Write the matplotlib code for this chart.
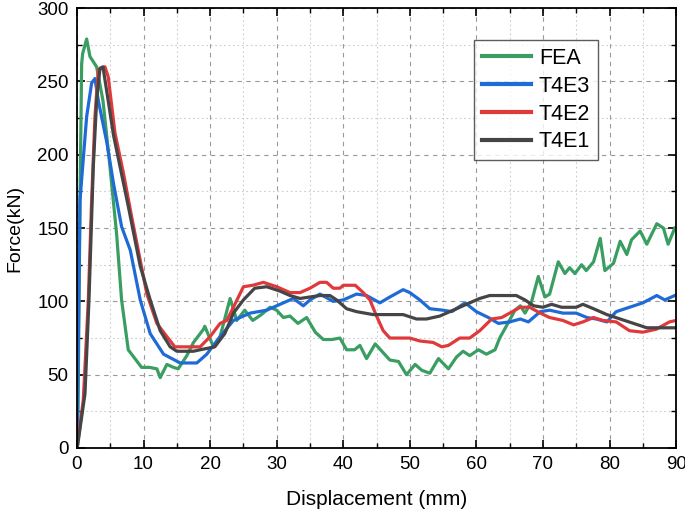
import numpy as np
import matplotlib
matplotlib.use('Agg')
import matplotlib.pyplot as plt
from matplotlib.ticker import MultipleLocator

plt.rcParams['font.family'] = ['Liberation Sans', 'DejaVu Sans']

# FEA curve (displacement mm, force kN)
fea_x = [0, 0.15, 0.45, 0.7, 0.85, 1.45, 1.95, 2.95, 3.9, 4.95, 5.95, 6.7, 7.7, 8.2, 9.7,
         10.9, 12, 12.5, 13.5, 14.5, 15.2, 16.5, 17.5, 19, 19.2, 20.5, 21.5, 23, 24, 25.2,
         26.4, 27.7, 29, 30, 31, 32, 33.2, 34.5, 35.8, 37, 38.3, 39.5, 40.5, 41.7, 42.5,
         43.5, 44.8, 45.8, 47, 48.3, 49.5, 50.8, 51.8, 53, 54.3, 55.8, 57, 58, 59, 60.3,
         61.5, 62.8, 63.5, 64.6, 65.8, 66.6, 67.3, 68.3, 69.3, 70.3, 71, 72.3, 73.3, 74,
         74.8, 75.8, 76.5, 77.6, 78.6, 79.3, 80.6, 81.6, 82.6, 83.3, 84.6, 85.6, 87.1,
         88.1, 88.8, 89.8]
fea_y = [0, 21, 169, 262, 269, 279, 267, 260, 237, 192, 146, 101, 67, 64, 55,
         55, 54, 48, 57, 55, 54, 63, 72, 81, 83, 69, 76, 102, 87, 94,
         87, 91, 96, 94, 89, 90, 85, 89, 79, 74, 74, 75, 67, 67, 70,
         61, 71, 66, 60, 59, 50, 57, 53, 51, 61, 54, 62, 66, 63, 67,
         64, 67, 75, 84, 94, 97, 92, 100, 117, 103, 105, 127, 119, 123,
         119, 125, 121, 127, 143, 121, 126, 141, 132, 142, 148, 139, 153,
         150, 139, 150]

# T4E3
e3_x = [0, 0.45, 1.45, 2.2, 2.7, 3.2, 4.5, 5.5, 6.7, 8, 9.5, 11, 13, 15.5, 18, 19.5,
        21.5, 23.5, 26, 28.5, 31, 32.5, 34, 35, 36.5, 38.5, 40, 42, 43.5, 45.5, 47,
        49, 50, 51.5, 53, 55, 56.3, 58.3, 60, 61.8, 63.3, 65, 66.6, 67.8, 69.6, 71,
        73, 75, 76.6, 78, 79.6, 81, 83, 85, 87.1, 88.3, 89.8]
e3_y = [0, 169, 226, 249, 252, 237, 208, 180, 151, 135, 101, 78, 64, 58, 58, 64,
        76, 87, 92, 94, 99, 102, 97, 101, 105, 100, 101, 105, 104, 99, 103,
        108, 106, 101, 95, 94, 93, 99, 93, 89, 85, 86, 88, 86, 93, 94,
        92, 92, 89, 88, 86, 93, 96, 99, 104, 101, 104]

# T4E2
e2_x = [0, 0.1, 0.95, 1.7, 2.2, 2.7, 3.2, 4.2, 4.7, 5.7, 7, 8.2, 9.5, 10.5, 12, 13.5,
        14.7, 16.5, 18.5, 20, 21.5, 22.5, 23.5, 25, 26.4, 28, 30, 32, 33.5, 35, 36.5,
        37.5, 38.5, 39.5, 40, 41.8, 43, 44, 45, 46, 47, 50, 51.5, 53.5, 54.8, 55.8,
        57.5, 59, 60.5, 62.3, 63.8, 65, 66.6, 68, 69.6, 71, 73, 74.6, 76, 77.6, 79,
        81, 83, 85, 87, 89, 90]
e2_y = [0, 3, 33, 101, 169, 226, 258, 260, 253, 215, 187, 158, 128, 105, 85, 76,
        69, 69, 69, 76, 85, 87, 96, 110, 111, 113, 110, 106, 106, 109, 113,
        113, 109, 109, 111, 111, 106, 101, 90, 80, 75, 75, 73, 72, 69, 70,
        75, 75, 80, 88, 89, 92, 96, 96, 92, 89, 87, 84, 86, 89, 87,
        86, 80, 79, 81, 86, 87]

# T4E1
e1_x = [0, 0.1, 1.2, 1.8, 2.45, 2.95, 3.45, 3.9, 5.5, 7.7, 9.5, 11, 12.5, 14, 15,
        17.5, 18.5, 20.7, 22.2, 23.5, 25, 26.7, 28.5, 30.5, 32, 33.5, 35, 36.5, 38,
        39, 40.5, 42, 44.5, 46.5, 49, 51, 52.5, 54.5, 55, 57, 59, 60.5, 62, 66,
        67.3, 68.6, 70, 71.3, 72.8, 75, 76, 77.6, 79.6, 81.6, 83.6, 85.6, 88, 90]
e1_y = [0, 2, 37, 101, 192, 237, 259, 260, 213, 165, 124, 101, 80, 69, 66,
        66, 67, 69, 78, 92, 101, 109, 110, 107, 104, 102, 103, 104, 104,
        101, 95, 93, 91, 91, 91, 88, 88, 90, 91, 95, 99, 102, 104, 104,
        101, 97, 96, 98, 96, 96, 98, 95, 91, 88, 85, 82, 82, 82]

labels = ['FEA', 'T4E3', 'T4E2', 'T4E1']
colors = ['#3a9e62', '#1f6bd6', '#e0393c', '#454545']

fig = plt.figure(figsize=(6.85, 5.12), dpi=100)
ax = fig.add_axes([0.1124, 0.125, 0.8746, 0.859])

for xs, ys, lab, c in zip([fea_x, e3_x, e2_x, e1_x], [fea_y, e3_y, e2_y, e1_y], labels, colors):
    ax.plot(xs, ys, color=c, lw=2.3, label=lab)

ax.set_xlim(0, 90)
ax.set_ylim(0, 300)
ax.xaxis.set_major_locator(MultipleLocator(10))
ax.xaxis.set_minor_locator(MultipleLocator(5))
ax.yaxis.set_major_locator(MultipleLocator(50))
ax.yaxis.set_minor_locator(MultipleLocator(25))
ax.grid(which='major', color='#999999', ls=(0, (4, 4)), lw=0.8)
ax.grid(which='minor', color='#cccccc', ls=(0, (1.5, 2.5)), lw=0.8)
ax.set_axisbelow(True)
ax.tick_params(which='both', direction='in', top=True, right=True, labelsize=13.5)
ax.tick_params(which='major', length=6, width=1.2, pad=6)
ax.tick_params(which='minor', length=3.5, width=1.0)
for s in ax.spines.values():
    s.set_linewidth(1.3)

ax.set_xlabel('Displacement (mm)', fontsize=15, labelpad=12)
ax.set_ylabel('Force(kN)', fontsize=14, labelpad=10)

leg = ax.legend(loc='upper left', bbox_to_anchor=(0.663, 0.927), fontsize=15.5,
                frameon=True, fancybox=False, edgecolor='#333333', handlelength=2.3,
                borderpad=0.35, labelspacing=0.32, handletextpad=0.35, borderaxespad=0)
leg.get_frame().set_linewidth(1.0)
for l in leg.get_lines():
    l.set_linewidth(3)

fig.savefig('out.png', dpi=100)
